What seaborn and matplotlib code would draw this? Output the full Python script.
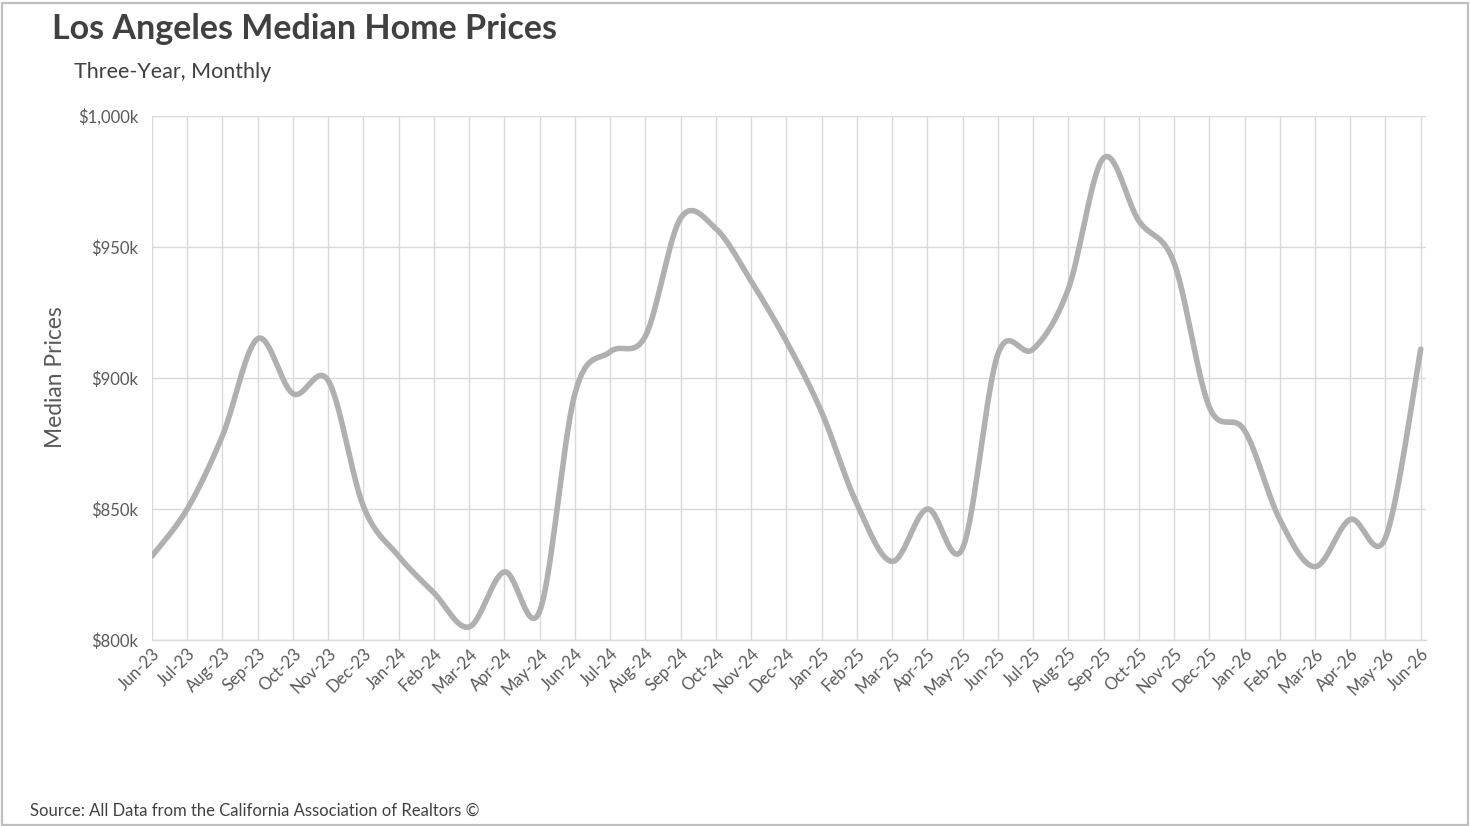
import numpy as np
import pandas as pd
import matplotlib
matplotlib.use("Agg")
import matplotlib.pyplot as plt
import seaborn as sns
from matplotlib.patches import Rectangle

months = ["Jun-23", "Jul-23", "Aug-23", "Sep-23", "Oct-23", "Nov-23", "Dec-23",
          "Jan-24", "Feb-24", "Mar-24", "Apr-24", "May-24", "Jun-24", "Jul-24",
          "Aug-24", "Sep-24", "Oct-24", "Nov-24", "Dec-24", "Jan-25", "Feb-25",
          "Mar-25", "Apr-25", "May-25", "Jun-25", "Jul-25", "Aug-25", "Sep-25",
          "Oct-25", "Nov-25", "Dec-25", "Jan-26", "Feb-26", "Mar-26", "Apr-26",
          "May-26", "Jun-26"]
prices_k = [832, 850, 878, 915, 894, 899, 851,
            832, 818, 805, 826, 811, 894, 910,
            916, 961, 957, 937, 914, 887, 852,
            830, 850, 835, 909, 911, 934, 984,
            960, 944, 889, 880, 846, 828, 846,
            839, 911]
y_ticks = [800, 850, 900, 950, 1000]
y_tick_labels = ["$800k", "$850k", "$900k", "$950k", "$1,000k"]

title = "Los Angeles Median Home Prices"
subtitle = "Three-Year, Monthly"
y_label = "Median Prices"
source = "Source: All Data from the California Association of Realtors \u00a9"

sns.set_theme(style="white")
plt.rcParams["font.family"] = ["Lato", "DejaVu Sans"]

# smoothed path (Catmull-Rom, like a spreadsheet "smoothed line")
x = np.arange(len(prices_k), dtype=float)
y = np.array(prices_k, dtype=float)
xs, ys = [], []
n = len(x)
for i in range(n - 1):
    p0 = np.array([x[max(i - 1, 0)], y[max(i - 1, 0)]])
    p1 = np.array([x[i], y[i]])
    p2 = np.array([x[i + 1], y[i + 1]])
    p3 = np.array([x[min(i + 2, n - 1)], y[min(i + 2, n - 1)]])
    c1 = p1 + (p2 - p0) / 6.0
    c2 = p2 - (p3 - p1) / 6.0
    t = np.linspace(0, 1, 30, endpoint=(i == n - 2))[:, None]
    pts = ((1 - t) ** 3) * p1 + 3 * ((1 - t) ** 2) * t * c1 + 3 * (1 - t) * t ** 2 * c2 + t ** 3 * p2
    xs.append(pts[:, 0]); ys.append(pts[:, 1])
smooth = pd.DataFrame({"pos": np.concatenate(xs), "price": np.concatenate(ys)})

W, H = 1470, 826
fig = plt.figure(figsize=(W / 100, H / 100), dpi=100)
fig.patch.set_facecolor("white")
ax = fig.add_axes([152 / W, 1 - 640 / H, (1426 - 152) / W, (640 - 116) / H])

sns.lineplot(data=smooth, x="pos", y="price", ax=ax, color="#b0b0b0",
             linewidth=4.0, sort=False, estimator=None)

ax.set_xlim(0, 36.15)
ax.set_ylim(800, 1000)
ax.set_xticks(x)
ax.set_xticklabels(months, rotation=45, ha="right", va="top",
                   rotation_mode="anchor", fontsize=12, color="#595959")
ax.set_yticks(y_ticks)
ax.set_yticklabels(y_tick_labels, fontsize=12, color="#595959")
ax.grid(True, axis="both", color="#d9d9d9", linewidth=1)
ax.set_axisbelow(True)
for s in ["top", "right", "left"]:
    ax.spines[s].set_visible(False)
ax.spines["bottom"].set_color("#d9d9d9")
ax.spines["bottom"].set_linewidth(1)
ax.tick_params(axis="x", length=0, pad=4)
ax.tick_params(axis="y", length=6, width=1, color="#d9d9d9", pad=4)
ax.set_xlabel("")
ax.set_ylabel("")

fig.text(55 / W, 1 - 377 / H, y_label, rotation=90, ha="center", va="center",
         fontsize=16.4, color="#595959")
fig.text(52 / W, 1 - 39 / H, title, ha="left", va="baseline", fontsize=24.5,
         fontweight="bold", color="#404040")
fig.text(74 / W, 1 - 78 / H, subtitle, ha="left", va="baseline", fontsize=15.5,
         color="#404040")
fig.text(30 / W, 1 - 816 / H, source, ha="left", va="baseline", fontsize=12,
         color="#404040")

fig.patches.append(Rectangle((1.5 / W, 1.5 / H), (W - 4) / W, (H - 4) / H,
                             transform=fig.transFigure, fill=False,
                             edgecolor="#bfbfbf", linewidth=1.6))

fig.savefig("out.png", dpi=100, facecolor="white")
